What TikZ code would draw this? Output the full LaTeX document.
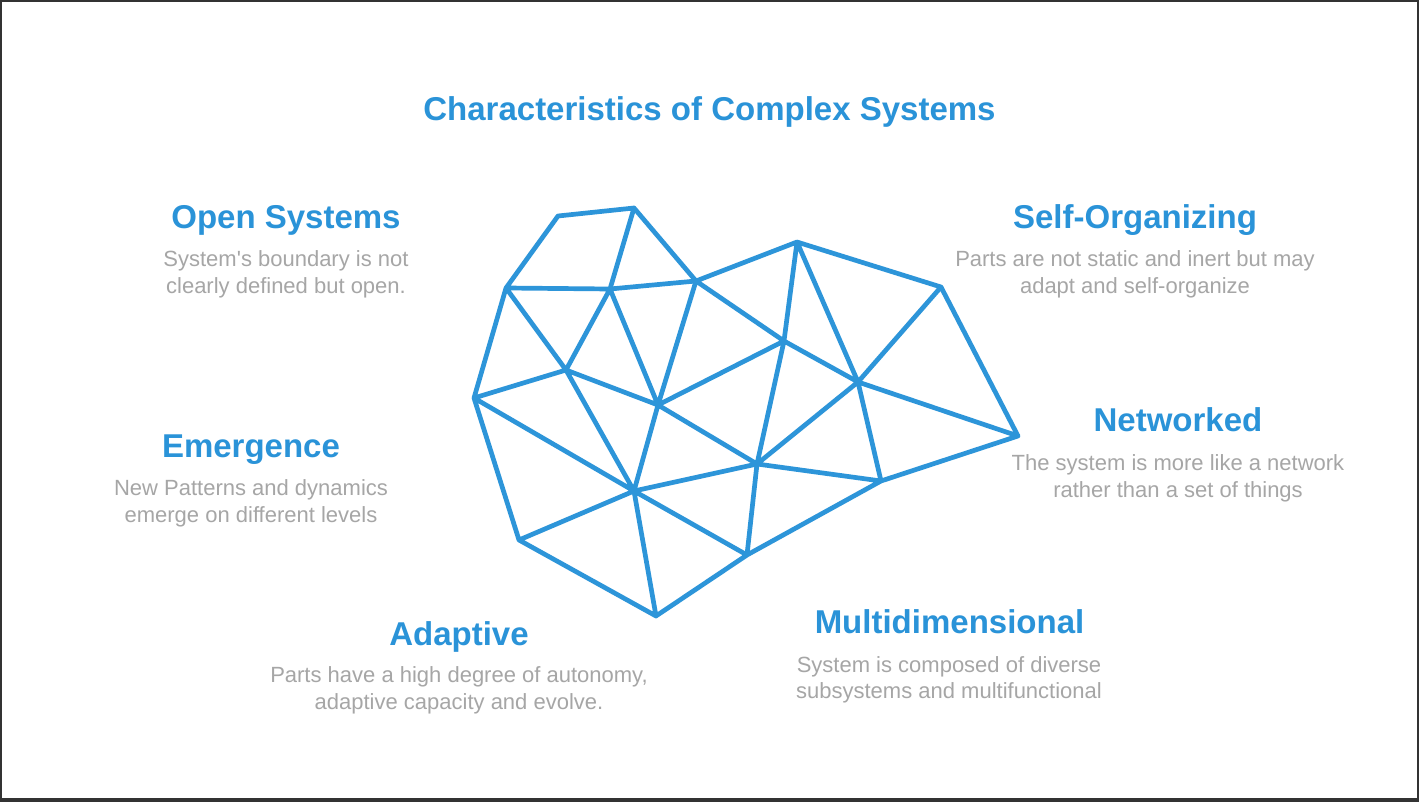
\documentclass[tikz,border=0pt]{standalone}
\usepackage{fontspec}
\setmainfont{Liberation Sans}
\definecolor{meshblue}{HTML}{2D95D9}
\definecolor{headblue}{HTML}{2A93D8}
\definecolor{bodygray}{HTML}{A6A6A6}
\definecolor{framedark}{HTML}{333333}
\begin{document}
\begin{tikzpicture}[x=1pt,y=-1pt,
  heading/.style={anchor=base,inner sep=0pt,text=headblue,font=\fontsize{33}{40}\selectfont\bfseries},
  bodyline/.style={anchor=base,inner sep=0pt,text=bodygray,font=\fontsize{22}{27}\selectfont},
  meshline/.style={draw=meshblue,line width=4.7pt,line cap=round,line join=round}]
\useasboundingbox (0,0) rectangle (1419,802);
\fill[framedark] (0,0) rectangle (1419,802);
\fill[white] (2,2) rectangle (1417,798);

% title
\node[heading] (title) at (709.5,121) {Characteristics of Complex Systems};

% mesh vertices
\coordinate (A) at (558,216);
\coordinate (B) at (634,208);
\coordinate (C) at (506,288);
\coordinate (D) at (610,289);
\coordinate (E) at (696,281);
\coordinate (F) at (797,242);
\coordinate (G) at (941,287);
\coordinate (H) at (566,370);
\coordinate (I) at (658,405);
\coordinate (J) at (784,341);
\coordinate (K) at (858,382);
\coordinate (L) at (1018,436);
\coordinate (M) at (474,398);
\coordinate (N) at (634,491);
\coordinate (O) at (757,464);
\coordinate (P) at (881,481);
\coordinate (Q) at (519,540);
\coordinate (R) at (747,555);
\coordinate (S) at (656,616);

\draw[meshline] (A)--(B) (A)--(C) (B)--(D) (B)--(E) (C)--(D) (D)--(E) (E)--(F)
  (E)--(J) (E)--(I) (C)--(H) (C)--(M) (D)--(H) (D)--(I) (H)--(I) (M)--(H)
  (H)--(N) (I)--(N) (I)--(J) (I)--(O) (F)--(J) (F)--(K) (F)--(G) (G)--(K)
  (G)--(L) (K)--(L) (J)--(K) (J)--(O) (K)--(O) (K)--(P) (O)--(P) (P)--(L)
  (M)--(N) (M)--(Q) (N)--(Q) (N)--(S) (N)--(R) (N)--(O) (Q)--(S) (S)--(R)
  (R)--(O) (R)--(P);

% Open Systems
\node[heading] (osh) at (286,229) {Open Systems};
\node[bodyline] (os1) at (286,267) {System\textquotesingle s boundary is not};
\node[bodyline] (os2) at (286,294) {clearly defined but open.};

% Self-Organizing
\node[heading] (soh) at (1135,229) {Self-Organizing};
\node[bodyline] (so1) at (1135,267) {Parts are not static and inert but may};
\node[bodyline] (so2) at (1135,294) {adapt and self-organize};

% Emergence
\node[heading] (emh) at (251,457) {Emergence};
\node[bodyline] (em1) at (251,495) {New Patterns and dynamics};
\node[bodyline] (em2) at (251,522) {emerge on different levels};

% Networked
\node[heading] (nwh) at (1178,431) {Networked};
\node[bodyline] (nw1) at (1178,470) {The system is more like a network};
\node[bodyline] (nw2) at (1178,497) {rather than a set of things};

% Adaptive
\node[heading] (adh) at (459,645) {Adaptive};
\node[bodyline] (ad1) at (459,682) {Parts have a high degree of autonomy,};
\node[bodyline] (ad2) at (459,709) {adaptive capacity and evolve.};

% Multidimensional
\node[heading] (mdh) at (949.5,633) {Multidimensional};
\node[bodyline] (md1) at (949,672) {System is composed of diverse};
\node[bodyline] (md2) at (949,698) {subsystems and multifunctional};
\end{tikzpicture}
\end{document}
